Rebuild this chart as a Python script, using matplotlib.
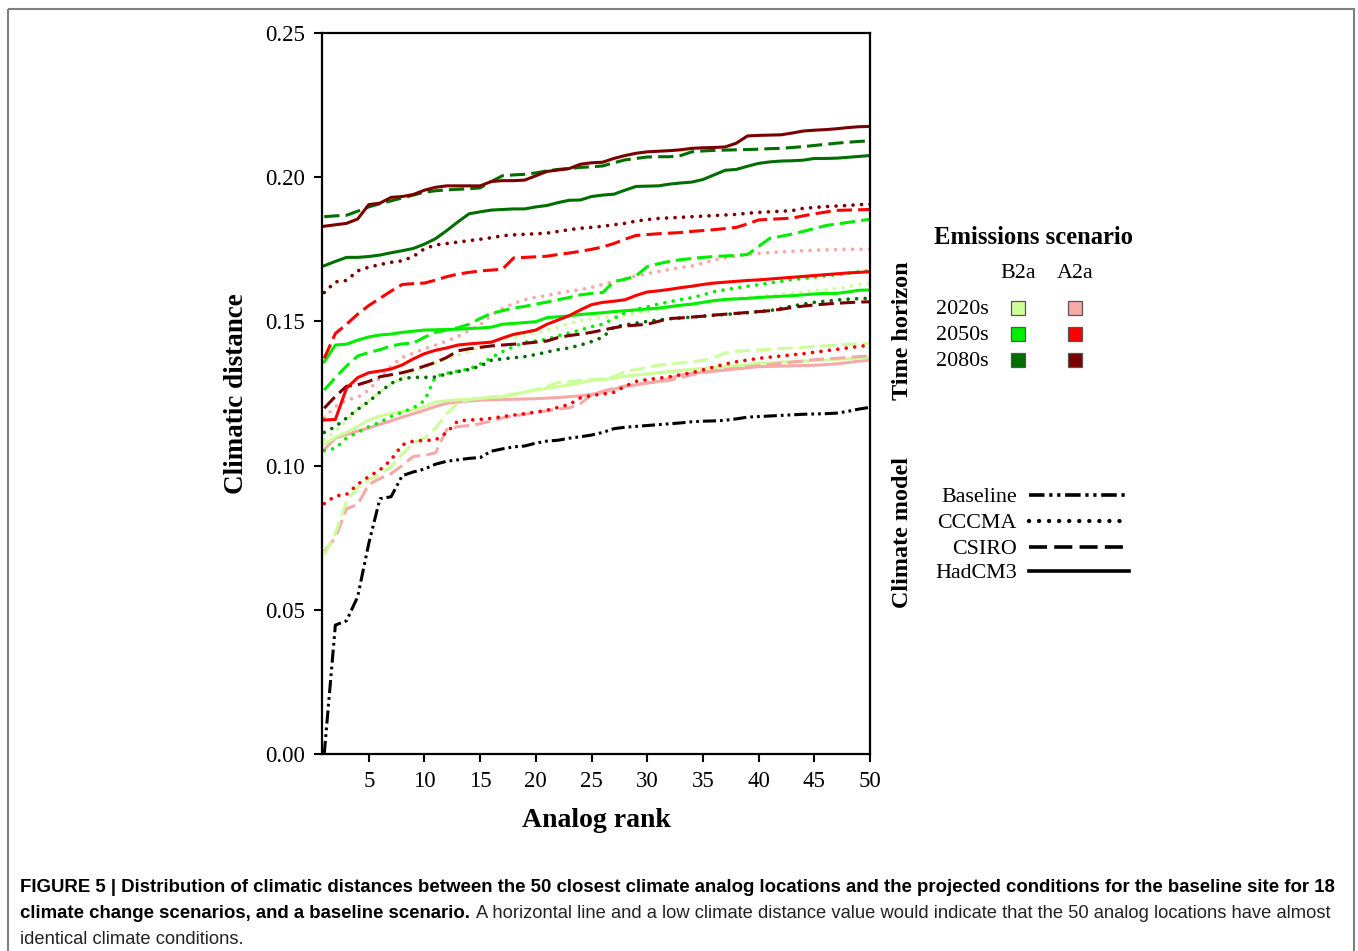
import matplotlib
matplotlib.use("Agg")
import matplotlib.pyplot as plt
from matplotlib.patches import Rectangle

# ---------------- data ----------------
ranks = list(range(1, 51))

b2a_2020_cccma = [0.109,0.112,0.1155,0.1195,0.1225,0.1255,0.128,0.1305,0.1325,0.134,
                  0.1355,0.137,0.1383,0.1395,0.1412,0.143,0.1438,0.1445,0.1452,0.146,
                  0.147,0.148,0.1492,0.1503,0.151,0.1514,0.1517,0.152,0.1528,0.1536,
                  0.1542,0.1548,0.1554,0.1558,0.1563,0.157,0.1576,0.158,0.1584,0.1587,
                  0.159,0.1594,0.1598,0.1602,0.1607,0.161,0.1614,0.162,0.1628,0.1633]
b2a_2020_csiro = [0.069,0.0765,0.0875,0.0925,0.0952,0.097,0.0995,0.104,0.1078,0.1095,
                  0.113,0.118,0.1218,0.1228,0.1234,0.1238,0.1242,0.1248,0.1256,0.1264,
                  0.1275,0.1288,0.1292,0.1295,0.1298,0.1302,0.1308,0.1326,0.1333,0.134,
                  0.1348,0.1352,0.1356,0.136,0.1365,0.1375,0.139,0.1396,0.1399,0.1401,
                  0.1403,0.1406,0.1408,0.141,0.1413,0.1415,0.1418,0.142,0.1422,0.1424]
b2a_2020_hadcm3 = [0.1075,0.1098,0.1115,0.1135,0.1158,0.1172,0.118,0.1187,0.1193,0.1205,
                   0.122,0.1225,0.1228,0.123,0.1233,0.1236,0.1238,0.1245,0.1255,0.1262,
                   0.1268,0.1274,0.128,0.1287,0.1295,0.1298,0.1303,0.131,0.1314,0.1318,
                   0.1322,0.1326,0.133,0.1334,0.1337,0.134,0.1343,0.1346,0.135,0.1355,
                   0.1357,0.1359,0.136,0.1362,0.1364,0.1366,0.1368,0.137,0.1372,0.1375]
b2a_2050_cccma = [0.1052,0.106,0.1095,0.1115,0.1135,0.115,0.117,0.1185,0.12,0.1225,
                  0.131,0.132,0.1328,0.1335,0.1352,0.1375,0.1395,0.1412,0.1428,0.1432,
                  0.1438,0.145,0.146,0.147,0.1482,0.149,0.151,0.153,0.1542,0.155,
                  0.156,0.1568,0.1576,0.1582,0.1592,0.1603,0.161,0.1616,0.1622,0.1627,
                  0.1633,0.1639,0.1645,0.1649,0.1653,0.1658,0.1662,0.1667,0.1672,0.1676]
b2a_2050_csiro = [0.1262,0.1305,0.1345,0.138,0.1392,0.1402,0.1415,0.1422,0.1425,0.1445,
                  0.1462,0.147,0.1478,0.149,0.151,0.1528,0.1537,0.1546,0.1552,0.156,
                  0.1567,0.1575,0.1583,0.1592,0.1597,0.16,0.1638,0.1646,0.1658,0.169,
                  0.17,0.1708,0.1714,0.1718,0.1722,0.1725,0.1727,0.1729,0.1732,0.176,
                  0.1788,0.1795,0.1803,0.1812,0.1822,0.1832,0.1838,0.1843,0.1849,0.1854]
b2a_2050_hadcm3 = [0.136,0.1418,0.1421,0.1435,0.1446,0.1453,0.1456,0.1462,0.1466,0.147,
                   0.1471,0.1472,0.1473,0.1475,0.1477,0.148,0.149,0.1493,0.1496,0.1499,
                   0.1513,0.1516,0.1519,0.1524,0.1527,0.153,0.1534,0.1537,0.154,0.1543,
                   0.1546,0.1551,0.1556,0.156,0.1566,0.1572,0.1576,0.1578,0.158,0.1583,
                   0.1585,0.1587,0.1589,0.1592,0.1595,0.1597,0.1597,0.1602,0.1608,0.1609]
b2a_2080_cccma = [0.1115,0.1135,0.1165,0.1195,0.1222,0.1255,0.1285,0.1302,0.1306,0.1306,
                  0.1307,0.1318,0.1326,0.1333,0.1345,0.1365,0.137,0.1374,0.1378,0.1385,
                  0.1394,0.1402,0.1408,0.1418,0.143,0.1445,0.148,0.1488,0.1494,0.15,
                  0.1505,0.1509,0.1512,0.1515,0.1518,0.1521,0.1524,0.1527,0.153,0.1534,
                  0.1537,0.1545,0.1553,0.156,0.1566,0.157,0.1574,0.1577,0.1579,0.158]
b2a_2080_csiro = [0.1863,0.1866,0.1868,0.1882,0.1897,0.1908,0.1918,0.1928,0.1938,0.1948,
                  0.1953,0.1956,0.1958,0.196,0.1963,0.1985,0.2005,0.2008,0.201,0.2015,
                  0.2022,0.2027,0.203,0.2034,0.2036,0.2039,0.205,0.206,0.2065,0.207,
                  0.2071,0.2071,0.2075,0.2088,0.2091,0.2093,0.2094,0.2095,0.2096,0.2097,
                  0.2099,0.21,0.2103,0.2106,0.211,0.2114,0.2118,0.2121,0.2124,0.2126]
b2a_2080_hadcm3 = [0.1693,0.1708,0.1722,0.1722,0.1725,0.173,0.1738,0.1745,0.1753,0.1768,
                   0.1787,0.1815,0.1845,0.1873,0.188,0.1886,0.1888,0.189,0.189,0.1897,
                   0.1902,0.1912,0.192,0.1921,0.1933,0.1938,0.1941,0.1955,0.1968,0.1969,
                   0.197,0.1976,0.198,0.1983,0.1992,0.2008,0.2024,0.2027,0.2038,0.2048,
                   0.2053,0.2056,0.2057,0.2059,0.2065,0.2065,0.2066,0.2069,0.2072,0.2075]

a2a_2020_cccma = [0.1165,0.1205,0.1228,0.1237,0.1262,0.1305,0.1345,0.1375,0.139,0.1405,
                  0.1418,0.1432,0.1448,0.1468,0.1488,0.1522,0.1545,0.1562,0.1575,0.1584,
                  0.159,0.1598,0.1605,0.161,0.1618,0.1628,0.1638,0.1648,0.1658,0.1666,
                  0.1673,0.168,0.1687,0.1692,0.1702,0.1713,0.172,0.1726,0.1732,0.1736,
                  0.1739,0.1741,0.1743,0.1745,0.1747,0.1748,0.1749,0.175,0.175,0.175]
a2a_2020_csiro = [0.0702,0.075,0.085,0.0865,0.0935,0.0955,0.0972,0.1,0.1032,0.1035,
                  0.1045,0.1125,0.1135,0.1139,0.1145,0.1155,0.1165,0.1172,0.1178,0.1184,
                  0.119,0.1196,0.12,0.1215,0.1245,0.1258,0.1268,0.1276,0.1282,0.1287,
                  0.1291,0.1296,0.1305,0.1315,0.1322,0.1328,0.1333,0.1337,0.1342,0.1346,
                  0.135,0.1355,0.1359,0.1363,0.1367,0.137,0.1372,0.1375,0.1378,0.138]
a2a_2020_hadcm3 = [0.1055,0.1095,0.1108,0.112,0.113,0.1143,0.1155,0.1168,0.118,0.1192,
                   0.1205,0.1216,0.122,0.1224,0.1227,0.1228,0.1229,0.123,0.1231,0.1232,
                   0.1234,0.1236,0.1239,0.1242,0.1247,0.1254,0.1265,0.1274,0.128,0.1286,
                   0.1292,0.1302,0.1314,0.132,0.1324,0.1328,0.1331,0.1335,0.1339,0.1343,
                   0.1344,0.1345,0.1346,0.1347,0.1348,0.135,0.1353,0.1357,0.1362,0.1366]
a2a_2050_cccma = [0.0868,0.0895,0.09,0.0935,0.0962,0.0985,0.102,0.1072,0.1085,0.1087,
                  0.1089,0.1115,0.1155,0.1158,0.116,0.1164,0.117,0.1175,0.118,0.1186,
                  0.1192,0.1202,0.1212,0.1235,0.1243,0.1248,0.1254,0.1275,0.1292,0.1298,
                  0.1303,0.1308,0.1315,0.1322,0.1332,0.1342,0.1352,0.136,0.1366,0.1372,
                  0.1376,0.138,0.1384,0.1388,0.1393,0.1398,0.1403,0.1408,0.1413,0.1418]
a2a_2050_csiro = [0.1372,0.1458,0.149,0.1525,0.1555,0.158,0.1605,0.1628,0.1631,0.1633,
                  0.1643,0.1655,0.1664,0.167,0.1675,0.1678,0.1681,0.172,0.1722,0.1724,
                  0.1726,0.1732,0.1737,0.1743,0.175,0.1758,0.177,0.1785,0.1798,0.1801,
                  0.1804,0.1806,0.1808,0.1812,0.1815,0.1818,0.1822,0.1826,0.1838,0.1852,
                  0.1854,0.1856,0.1858,0.1866,0.1873,0.1879,0.1885,0.1886,0.1887,0.1888]
a2a_2050_hadcm3 = [0.1158,0.116,0.1268,0.1305,0.1322,0.1328,0.1335,0.1349,0.137,0.1388,
                   0.14,0.1408,0.1418,0.1422,0.1425,0.1428,0.1442,0.1455,0.1462,0.147,
                   0.149,0.1505,0.152,0.154,0.1558,0.1566,0.157,0.1575,0.159,0.1602,
                   0.1606,0.1611,0.1617,0.1622,0.1628,0.1633,0.1636,0.1639,0.1642,0.1644,
                   0.1647,0.165,0.1653,0.1656,0.1659,0.1662,0.1665,0.1668,0.167,0.1672]
a2a_2080_cccma = [0.160,0.1637,0.1642,0.1675,0.1688,0.1697,0.1705,0.171,0.1725,0.1752,
                  0.1765,0.177,0.1775,0.178,0.1785,0.179,0.1797,0.18,0.1802,0.1804,
                  0.1806,0.1812,0.1818,0.1823,0.1826,0.183,0.1835,0.184,0.1848,0.1853,
                  0.1857,0.1859,0.1861,0.1863,0.1865,0.1867,0.1869,0.1871,0.1875,0.1878,
                  0.188,0.1882,0.1884,0.1892,0.1895,0.1898,0.19,0.1902,0.1905,0.1906]
a2a_2080_csiro = [0.1199,0.124,0.1275,0.128,0.1292,0.1308,0.1315,0.1322,0.1332,0.1345,
                  0.1358,0.1375,0.1398,0.1405,0.141,0.1415,0.1418,0.1421,0.1424,0.1428,
                  0.1432,0.1444,0.1451,0.1456,0.1462,0.147,0.1478,0.1484,0.1487,0.149,
                  0.15,0.151,0.1512,0.1515,0.1518,0.1522,0.1525,0.1528,0.1531,0.1534,
                  0.1537,0.1542,0.1548,0.1553,0.1557,0.156,0.1563,0.1565,0.1567,0.1568]
a2a_2080_hadcm3 = [0.183,0.1835,0.184,0.1855,0.1905,0.191,0.193,0.1933,0.194,0.1955,
                   0.1965,0.197,0.197,0.197,0.197,0.1985,0.1988,0.1988,0.199,0.2005,
                   0.202,0.2025,0.203,0.2045,0.205,0.2052,0.2065,0.2075,0.2083,0.2088,
                   0.209,0.2092,0.2095,0.21,0.2102,0.2103,0.2105,0.2118,0.2143,0.2145,
                   0.2146,0.2147,0.2153,0.216,0.2163,0.2165,0.2168,0.2172,0.2175,0.2176]

baseline = [0.0,0.0447,0.0462,0.0545,0.073,0.0885,0.0892,0.0965,0.0978,0.0988,
            0.1005,0.1015,0.102,0.1025,0.1028,0.105,0.1058,0.1065,0.1068,0.1078,
            0.1085,0.1088,0.1095,0.11,0.1106,0.1115,0.1128,0.1133,0.1136,0.1139,
            0.1142,0.1145,0.1148,0.1152,0.1154,0.1155,0.1157,0.1162,0.1168,0.117,
            0.1172,0.1174,0.1176,0.1178,0.1179,0.118,0.1182,0.1188,0.1196,0.1202]

x_ticks = [5, 10, 15, 20, 25, 30, 35, 40, 45, 50]
y_ticks = [0.00, 0.05, 0.10, 0.15, 0.20, 0.25]
horizons = ["2020s", "2050s", "2080s"]
scenarios = ["B2a", "A2a"]
models = ["Baseline", "CCCMA", "CSIRO", "HadCM3"]

caption_bold_1 = ("FIGURE 5 | Distribution of climatic distances between the 50 closest climate analog "
                  "locations and the projected conditions for the baseline site for 18")
caption_bold_2 = "climate change scenarios, and a baseline scenario."
caption_reg_2 = ("A horizontal line and a low climate distance value would indicate that the 50 "
                 "analog locations have almost")
caption_reg_3 = "identical climate conditions."

# ---------------- styles ----------------
COL = {("B2a", "2020s"): "#ccff99", ("B2a", "2050s"): "#00ee00", ("B2a", "2080s"): "#006e00",
       ("A2a", "2020s"): "#f7a8a8", ("A2a", "2050s"): "#ff0000", ("A2a", "2080s"): "#7a0000"}
DASH = {"Baseline": (4.3, 1.3, 0.9, 1.3, 0.9, 1.3),
        "CCCMA": (0.01, 2.3),
        "CSIRO": (5.0, 2.0),
        "HadCM3": None}
LW = 2.2
LW_DOT = 2.65

series = [
    ("A2a", "2020s", "CCCMA", a2a_2020_cccma), ("B2a", "2020s", "CCCMA", b2a_2020_cccma),
    ("A2a", "2020s", "HadCM3", a2a_2020_hadcm3), ("B2a", "2020s", "HadCM3", b2a_2020_hadcm3),
    ("A2a", "2020s", "CSIRO", a2a_2020_csiro), ("B2a", "2020s", "CSIRO", b2a_2020_csiro),
    ("A2a", "2050s", "CCCMA", a2a_2050_cccma), ("B2a", "2050s", "CCCMA", b2a_2050_cccma),
    ("B2a", "2080s", "CCCMA", b2a_2080_cccma), ("A2a", "2080s", "CSIRO", a2a_2080_csiro),
    ("B2a", "2050s", "HadCM3", b2a_2050_hadcm3), ("A2a", "2050s", "HadCM3", a2a_2050_hadcm3),
    ("B2a", "2050s", "CSIRO", b2a_2050_csiro), ("A2a", "2050s", "CSIRO", a2a_2050_csiro),
    ("A2a", "2080s", "CCCMA", a2a_2080_cccma), ("B2a", "2080s", "HadCM3", b2a_2080_hadcm3),
    ("B2a", "2080s", "CSIRO", b2a_2080_csiro), ("A2a", "2080s", "HadCM3", a2a_2080_hadcm3),
]

SERIF = "Liberation Serif"
W, H = 1358, 951
fig = plt.figure(figsize=(W / 100, H / 100), dpi=100)

ax = fig.add_axes([322 / W, 1 - 754 / H, (870 - 322) / W, (754 - 33) / H])


def style_line(line, model):
    if DASH[model] is not None:
        line.set_dashes(DASH[model])
        if model == "CCCMA":
            line.set_dash_capstyle("round")
            line.set_linewidth(line.get_linewidth() * LW_DOT / LW)


for scen, hor, model, vals in series:
    ln, = ax.plot(ranks, vals, color=COL[(scen, hor)], lw=LW, solid_joinstyle="round")
    style_line(ln, model)
ln, = ax.plot(ranks, baseline, color="black", lw=LW)
style_line(ln, "Baseline")

ax.set_xlim(0.8, 50)
ax.set_ylim(0, 0.25)
ax.set_xticks(x_ticks)
ax.set_xticklabels([str(t) for t in x_ticks])
ax.set_yticks(y_ticks)
ax.set_yticklabels([f"{t:.2f}" for t in y_ticks])
ax.tick_params(direction="out", length=6, width=1.5, labelsize=16.5, pad=6)
for lab in ax.get_xticklabels() + ax.get_yticklabels():
    lab.set_fontfamily(SERIF)
for sp in ax.spines.values():
    sp.set_linewidth(1.6)
ax.set_xlabel("Analog rank", fontfamily=SERIF, fontsize=20, fontweight="bold", labelpad=12)
ax.set_ylabel("Climatic distance", fontfamily=SERIF, fontsize=19.5, fontweight="bold", labelpad=12)

# ---------------- overlay (legend, caption, frame) ----------------
ov = fig.add_axes([0, 0, 1, 1], zorder=5)
ov.set_xlim(0, W)
ov.set_ylim(H, 0)
ov.axis("off")
ov.patch.set_alpha(0)

ov.add_patch(Rectangle((7.5, 8.5), 1346, 960, fill=False, edgecolor="#808080", lw=1.5))

ov.text(1034, 238, "Emissions scenario", fontfamily=SERIF, fontsize=17.7, fontweight="bold",
        ha="center", va="center")
ov.text(903, 331, "Time horizon", fontfamily=SERIF, fontsize=17.4, fontweight="bold",
        rotation=90, ha="center", va="center")
ov.text(903, 533, "Climate model", fontfamily=SERIF, fontsize=17.4, fontweight="bold",
        rotation=90, ha="center", va="center")

scen_x = {"B2a": 1018, "A2a": 1075}
for s in scenarios:
    ov.text(scen_x[s], 274, s, fontfamily=SERIF, fontsize=15.8, ha="center", va="center")
row_y = {"2020s": 308, "2050s": 334, "2080s": 360}
for h in horizons:
    ov.text(962, row_y[h] + 2, h, fontfamily=SERIF, fontsize=15.8, ha="center", va="center")
    for s in scenarios:
        ov.add_patch(Rectangle((scen_x[s] - 7, row_y[h] - 7), 14, 14,
                               facecolor=COL[(s, h)], edgecolor="#555555", lw=0.9))

model_y = {"Baseline": 495, "CCCMA": 521, "CSIRO": 547, "HadCM3": 571}
for m in models:
    ov.text(1017, model_y[m] + 2, m, fontfamily=SERIF, fontsize=15.8, ha="right", va="center")
    l, = ov.plot([1029, 1129], [model_y[m], model_y[m]], color="black", lw=2.6)
    style_line(l, m)

CAP_FONT = "Liberation Sans"
CAP_SIZE = 13.4
ov.text(20, 888, caption_bold_1, fontfamily=CAP_FONT, fontsize=CAP_SIZE, fontweight="bold",
        ha="left", va="center")
tb = ov.text(20, 913, caption_bold_2, fontfamily=CAP_FONT, fontsize=CAP_SIZE, fontweight="bold",
             ha="left", va="center")
renderer = fig.canvas.get_renderer()
bb = tb.get_window_extent(renderer)
ov.text(bb.x1 + 6, 913, caption_reg_2, fontfamily=CAP_FONT, fontsize=CAP_SIZE - 0.2,
        color="#222222", ha="left", va="center")
ov.text(20, 939, caption_reg_3, fontfamily=CAP_FONT, fontsize=CAP_SIZE - 0.2, color="#222222",
        ha="left", va="center")

fig.savefig("out.png", dpi=100)
